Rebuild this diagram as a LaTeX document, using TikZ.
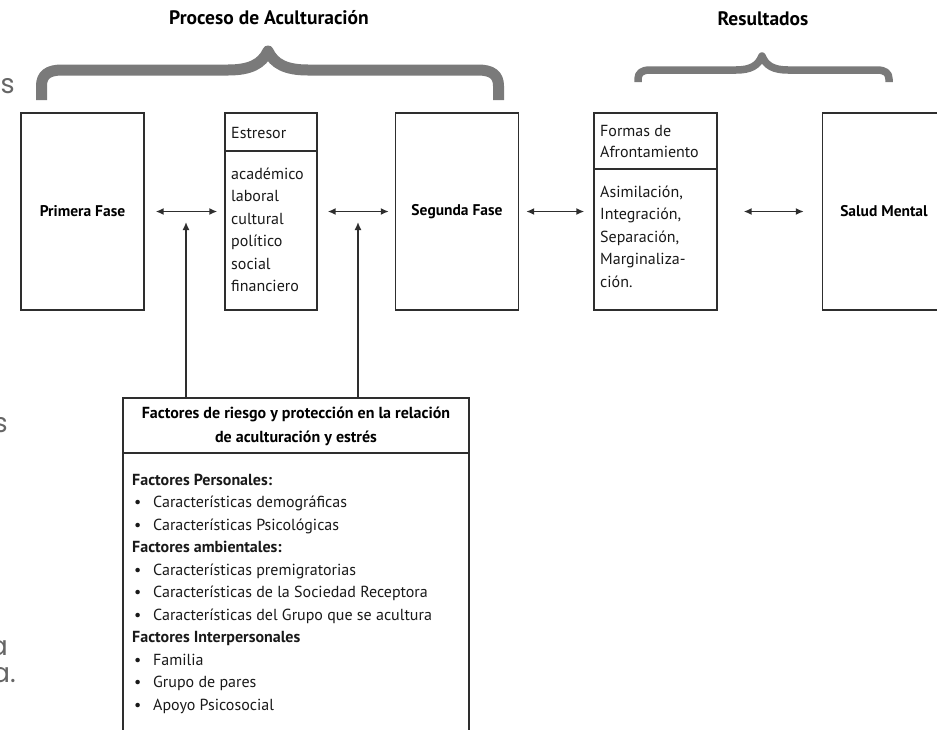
\documentclass[tikz,border=0pt]{standalone}
\usepackage{fontspec}
\setmainfont{PT Sans}
\newfontfamily\strayfont{Poppins}
\usetikzlibrary{positioning,arrows.meta}
\definecolor{inkgray}{HTML}{2E2E2E}
\definecolor{bracegray}{HTML}{7A7A7A}
\definecolor{straygray}{HTML}{666666}
\newcommand{\bul}[1]{\makebox[19pt][l]{\textbullet}#1}
\tikzset{
  box/.style={draw=inkgray, line width=1.4pt, inner sep=0pt, minimum width=123pt, minimum height=197pt, font=\bfseries\fontsize{15.5}{18}\selectfont},
  rule/.style={draw=inkgray, line width=1.4pt},
  link/.style={draw=inkgray, line width=1.5pt, {Latex[length=8pt,width=7pt]}-{Latex[length=8pt,width=7pt]}},
  feed/.style={draw=inkgray, line width=1.5pt, -{Latex[length=8pt,width=7pt]}},
  brace/.style={draw=bracegray, line join=round},
  item/.style={anchor=base west, inner sep=0pt, text=black!90, font=\fontsize{16}{19}\selectfont},
  head/.style={anchor=base, inner sep=0pt, font=\bfseries\fontsize{16}{19}\selectfont},
  title/.style={inner sep=0pt, font=\bfseries\fontsize{19.5}{22}\selectfont},
  stray/.style={anchor=base east, inner sep=0pt, text=straygray, font=\strayfont\fontsize{27}{27}\selectfont},
}

\begin{document}
\begin{tikzpicture}[x=1pt,y=-1pt]
    \useasboundingbox (0,0) rectangle (937,729);
    \clip (0,0) rectangle (937,729);
    % bits of the page text cut off at the left edge
    \node[stray] (s1) at (15,93) {es};
    \node[stray] (s2) at (8,432) {s};
    \node[stray] (s3) at (8,655) {a};
    \node[stray] (s4) at (16,682) {a.};
    % titles and braces
    \node[title] (proceso) at (269,18) {Proceso de Aculturación};
    \node[title] (resultados) at (763,19) {Resultados};
    \draw[brace, line width=11pt] (41.5,100) -- (41.5,86) .. controls (41.5,75) and (48,70) .. (62,70)
        -- (228,70) .. controls (250,70) and (262,64) .. (268,51) .. controls (274,64) and (286,70) .. (308,70)
        -- (478,70) .. controls (492,70) and (498.5,75) .. (498.5,86) -- (498.5,100);
    \draw[brace, line width=7.5pt] (638,82) -- (638,79) .. controls (638,73) and (642,70) .. (650,70)
        -- (736,70) .. controls (750,70) and (758,66) .. (762,56) .. controls (766,66) and (774,70) .. (788,70)
        -- (877,70) .. controls (885,70) and (889,73) .. (889,79) -- (889,82);
    % the row of boxes
    \node[box] (primera) at (82.5,211.5) {Primera Fase};
    \node[box, minimum width=92pt] (estresor) at (271,211.5) {};
    \node[box] (segunda) at (457,211.5) {Segunda Fase};
    \node[box] (formas) at (655.5,211.5) {};
    \node[box] (salud) at (884,211.5) {Salud Mental};
    \coordinate (estcut) at (0,151);
    \coordinate (forcut) at (0,169);
    \draw[rule] (estresor.west |- estcut) -- (estresor.east |- estcut);
    \draw[rule] (formas.west |- forcut) -- (formas.east |- forcut);
    \node[item] (esthead) at (231,138) {Estresor};
    \foreach \w [count=\i] in {académico,laboral,cultural,político,social,financiero}
        \node[item] (est-\i) at (231,{179.5+22.4*(\i-1)}) {\w};
    \node[item] (forhead1) at (600,136) {Formas de};
    \node[item] (forhead2) at (600,157.5) {Afrontamiento};
    \foreach \w [count=\i] in {Asimilación{,},Integración{,},Separación{,},Marginaliza-,ción.}
        \node[item] (for-\i) at (600,{197.5+22.4*(\i-1)}) {\w};
    % horizontal links
    \draw[link, shorten <=11pt, shorten >=7pt] (primera.east) -- (estresor.west);
    \draw[link, shorten <=10pt, shorten >=6pt] (estresor.east) -- (segunda.west);
    \draw[link, shorten <=7pt, shorten >=9pt] (segunda.east) -- (formas.west);
    \draw[link, shorten <=26pt, shorten >=18pt] (formas.east) -- (salud.west);
    % risk and protection factors
    \node[draw=inkgray, line width=1.4pt, minimum width=346pt, minimum height=362pt] (factores) at (296,579) {};
    \coordinate (faccut) at (0,453);
    \draw[rule] (factores.west |- faccut) -- (factores.east |- faccut);
    \node[head] (factitle1) at (296,418.5) {Factores de riesgo y protección en la relación};
    \node[head] (factitle2) at (296,442) {de aculturación y estrés};
    \node[item] (fac-1) at (132,485) {\bfseries Factores Personales:};
    \node[item] (fac-2) at (134,507.5) {\bul{Características demográficas}};
    \node[item] (fac-3) at (134,530) {\bul{Características Psicológicas}};
    \node[item] (fac-4) at (132,552.5) {\bfseries Factores ambientales:};
    \node[item] (fac-5) at (134,575) {\bul{Características premigratorias}};
    \node[item] (fac-6) at (134,597.5) {\bul{Características de la Sociedad Receptora}};
    \node[item] (fac-7) at (134,620) {\bul{Características del Grupo que se acultura}};
    \node[item] (fac-8) at (132,642.5) {\bfseries Factores Interpersonales};
    \node[item] (fac-9) at (134,665) {\bul{Familia}};
    \node[item] (fac-10) at (134,687.5) {\bul{Grupo de pares}};
    \node[item] (fac-11) at (134,710) {\bul{Apoyo Psicosocial}};
    % feedback into the first two links
    \coordinate (tipa) at (186,222);
    \coordinate (tipb) at (358,222);
    \draw[feed] (factores.north -| tipa) -- (tipa);
    \draw[feed] (factores.north -| tipb) -- (tipb);
\end{tikzpicture}
\end{document}
